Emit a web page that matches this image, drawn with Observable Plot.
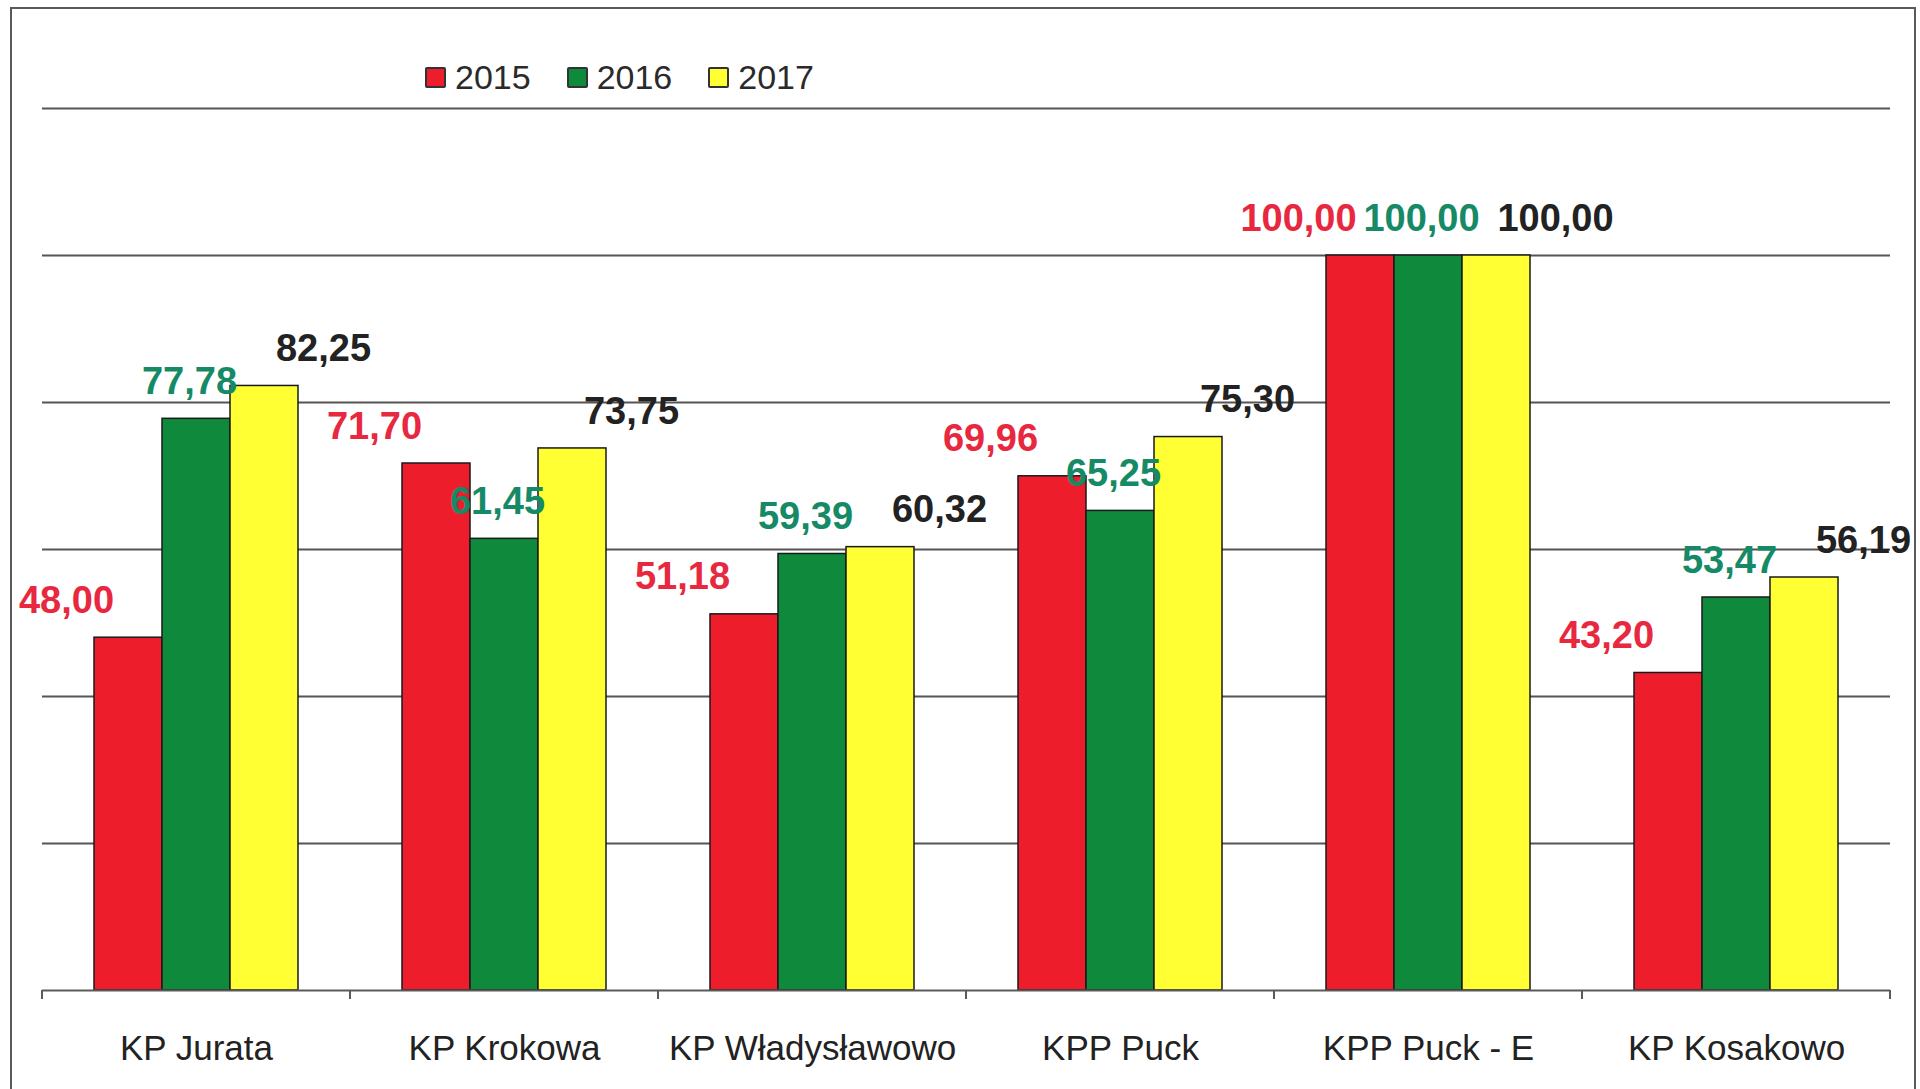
<!DOCTYPE html>
<html>
<head>
<meta charset="utf-8">
<script src="https://cdn.jsdelivr.net/npm/d3@7"></script>
<script src="https://cdn.jsdelivr.net/npm/@observablehq/plot@0.6"></script>
<style>
html, body { margin: 0; padding: 0; background: #fff; width: 1920px; height: 1089px; overflow: hidden; }
#wrap { position: relative; width: 1920px; height: 1089px; }
#chart { position: absolute; left: 0; top: 0; }
#frame { position: absolute; left: 10px; top: 7px; width: 1906px; height: 1200px; border: 2px solid #5a5a5a; box-sizing: border-box; pointer-events: none; }
#legend { position: absolute; left: 425px; top: 58px; display: flex; align-items: center;
  font-family: "Liberation Sans", Arial, sans-serif; font-size: 34px; color: #2a2a2a; }
#legend .item { display: flex; align-items: center; margin-right: 36px; }
#legend .sw { width: 17px; height: 17px; border: 2px solid #333; margin-right: 9px; border-radius: 2px; }
</style>
</head>
<body>
<div id="wrap">
  <div id="chart"></div>
  <div id="legend"></div>
  <div id="frame"></div>
</div>
<script>
// ---- data ----
const categories = ["KP Jurata", "KP Krokowa", "KP Władysławowo", "KPP Puck", "KPP Puck - E", "KP Kosakowo"];
const years = ["2015", "2016", "2017"];
const values2015 = [48.00, 71.70, 51.18, 69.96, 100.00, 43.20];
const values2016 = [77.78, 61.45, 59.39, 65.25, 100.00, 53.47];
const values2017 = [82.25, 73.75, 60.32, 75.30, 100.00, 56.19];
const gridTicks = [20, 40, 60, 80, 100, 120];
const barColors = ["#ee1d2b", "#0f8a3c", "#ffff33"];
const labelColors = ["#e8283f", "#168a66", "#222222"];

// ---- table ----
const series = [values2015, values2016, values2017];
const data = categories.flatMap((c, i) => years.map((y, j) => ({category: c, year: y, value: series[j][i]})));
const fmt = v => d3.format(".2f")(v).replace(".", ",");

// per-series label nudges (style)
const labelDx = [-62, -7, 59];

const font = "'Liberation Sans', Arial, sans-serif";

const chart = Plot.plot({
  width: 1920,
  height: 1089,
  marginLeft: 41,
  marginRight: 29,
  marginTop: 108,
  marginBottom: 99,
  style: {fontFamily: font, background: "transparent", color: "#222"},
  fx: {domain: categories, padding: 0},
  x: {domain: years, paddingInner: 0, paddingOuter: 0.75, axis: null},
  y: {domain: [0, 120], axis: null},
  color: {domain: years, range: barColors},
  marks: [
    Plot.gridY(gridTicks, {stroke: "#555", strokeOpacity: 1, strokeWidth: 2}),
    Plot.barY(data, {fx: "category", x: "year", y: "value", fill: "year", stroke: "#1a1a1a", strokeWidth: 1.5}),
    Plot.ruleY([0], {stroke: "#5a5a5a", strokeWidth: 2}),
    ...years.map((yr, j) => Plot.text(data.filter(d => d.year === yr), {
      fx: "category", x: "year", y: "value", text: d => fmt(d.value),
      fill: labelColors[j], dx: labelDx[j], dy: -37,
      fontSize: 38, fontWeight: "bold", fontFamily: font
    })),
    Plot.axisFx({anchor: "bottom", tickSize: 0, tickPadding: 45, fontSize: 35, label: null, fill: "#222"})
  ]
});

// category boundary ticks on the baseline, from Plot's own fx/y scales
const fxS = chart.scale("fx");
const yS = chart.scale("y");
const bounds = categories.map(c => fxS.apply(c));
bounds.push(fxS.apply(categories[categories.length - 1]) + fxS.bandwidth);
const y0 = yS.apply(0);
d3.select(chart).append("g")
  .selectAll("line").data(bounds).join("line")
  .attr("x1", d => d).attr("x2", d => d)
  .attr("y1", y0).attr("y2", y0 + 9)
  .attr("stroke", "#5a5a5a").attr("stroke-width", 2);

document.getElementById("chart").appendChild(chart);

// legend
const legend = d3.select("#legend");
years.forEach((yr, j) => {
  const it = legend.append("div").attr("class", "item");
  it.append("div").attr("class", "sw").style("background", barColors[j]);
  it.append("span").text(yr);
});
</script>
</body>
</html>
